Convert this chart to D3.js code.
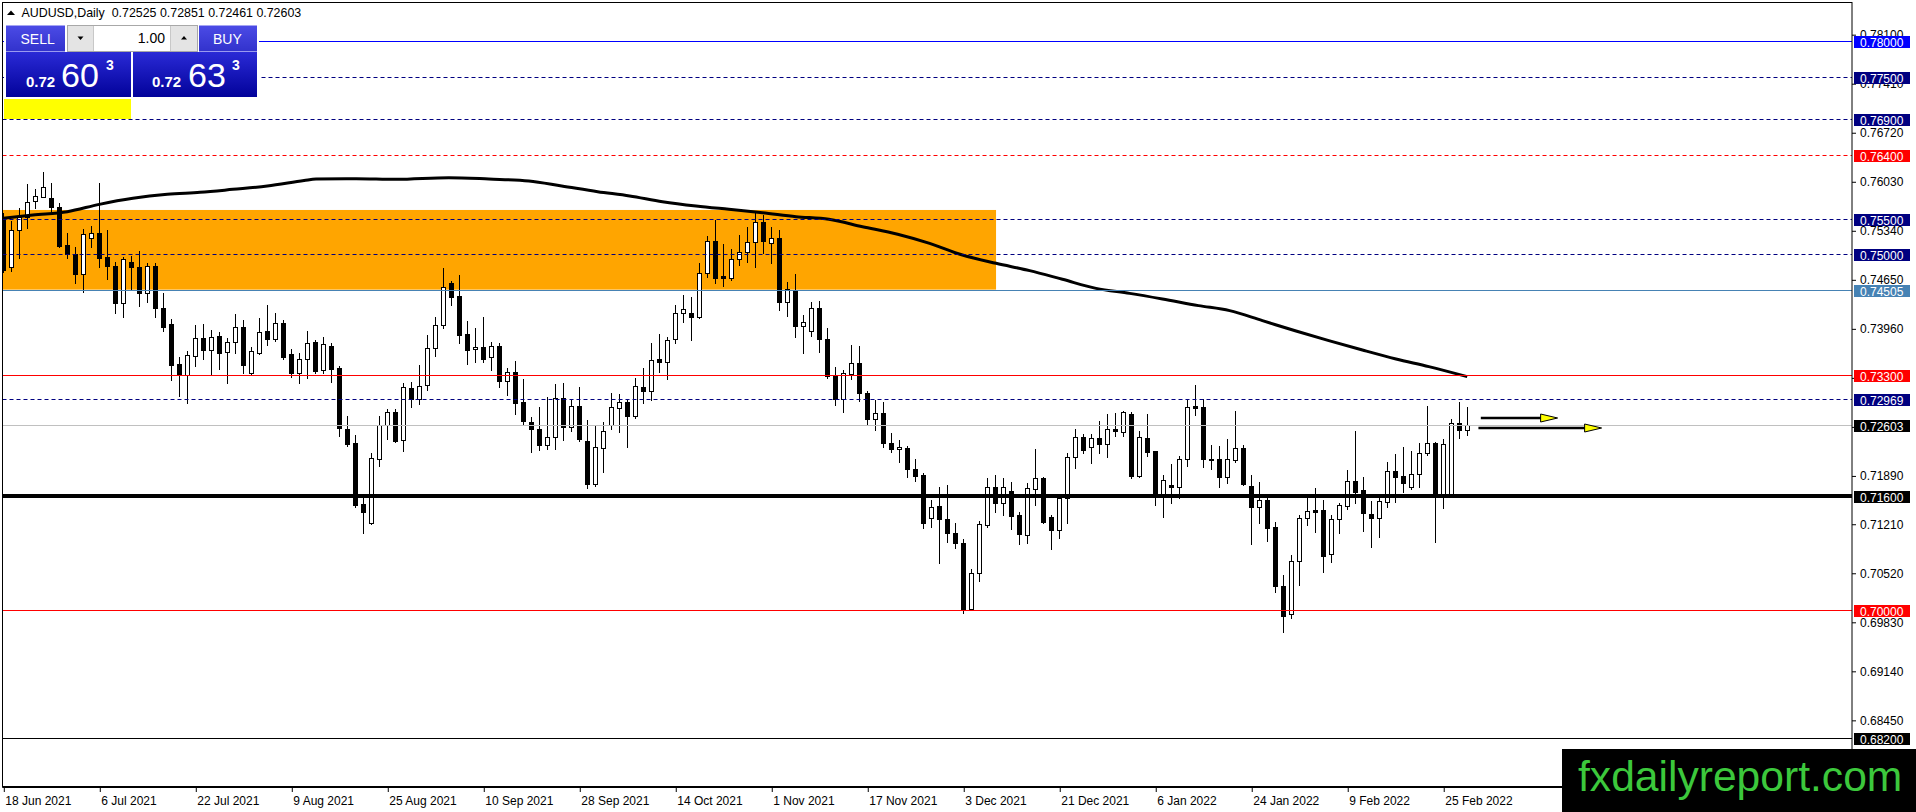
<!DOCTYPE html>
<html>
<head>
<meta charset="utf-8">
<script src="https://cdn.jsdelivr.net/npm/d3@7"></script>
<style>
html, body { margin: 0; padding: 0; background: #fff; overflow: hidden; }
svg { display: block; font-family: "Liberation Sans", Arial, sans-serif; }
</style>
</head>
<body>
<svg id="chart" width="1916" height="812"></svg>
<script>
// AUDUSD daily bars, 18 Jun 2021 .. 2 Mar 2022
const opens = [
  0.75522,0.74828,0.75344,0.75522,0.75747,0.75813,0.75790,0.75672,0.75128,0.75002,
  0.74720,0.75227,0.75297,0.74959,0.74837,0.74321,0.74893,0.74828,0.74462,0.74837,
  0.74241,0.74021,0.73458,0.73303,0.73575,0.73819,0.73655,0.73852,0.73631,0.73772,
  0.73974,0.73336,0.73617,0.73917,0.73805,0.74039,0.73599,0.73326,0.73524,0.73768,
  0.73374,0.73711,0.73397,0.72538,0.72341,0.71487,0.71215,0.72116,0.72595,0.72778,
  0.72388,0.73116,0.72970,0.73162,0.73679,0.74002,0.74593,0.74415,0.73880,0.73665,
  0.73693,0.73561,0.73711,0.73214,0.73341,0.72918,0.72642,0.72538,0.72322,0.72435,
  0.72974,0.72566,0.72871,0.72379,0.71769,0.72271,0.72600,0.72834,0.72919,0.72731,
  0.73130,0.73083,0.73529,0.73491,0.73805,0.74171,0.74171,0.74124,0.74734,0.75190,
  0.74697,0.74664,0.74932,0.75030,0.75171,0.75452,0.75157,0.75227,0.74326,0.74490,
  0.73998,0.73927,0.74242,0.73805,0.73289,0.72961,0.73318,0.73468,0.73045,0.72679,
  0.72773,0.72351,0.72257,0.72271,0.71975,0.71895,0.71285,0.71459,0.71271,0.71074,
  0.70943,0.70005,0.70521,0.71192,0.71722,0.71497,0.71675,0.71332,0.71051,0.71694,
  0.71849,0.71300,0.71121,0.71567,0.72144,0.72435,0.72285,0.72411,0.72332,0.72538,
  0.72505,0.72754,0.71881,0.72411,0.72238,0.71604,0.71755,0.71731,0.72116,0.72867,
  0.72848,0.72116,0.72116,0.71863,0.72107,0.72271,0.71741,0.71450,0.71544,0.71159,
  0.70334,0.69939,0.70690,0.71295,0.71403,0.71403,0.70779,0.71272,0.71464,0.71811,
  0.71685,0.71347,0.71286,0.71521,0.71957,0.71882,0.71722,0.71910,0.72201,0.72351,
  0.71628,0.71628,0.72623,0.72525
];
const highs = [
  0.75579,0.75471,0.75649,0.75991,0.75916,0.76165,0.76010,0.75729,0.75297,0.75100,
  0.75354,0.75400,0.76010,0.75344,0.74898,0.74968,0.74978,0.75053,0.74875,0.74875,
  0.74452,0.74086,0.73561,0.73641,0.74006,0.74016,0.73936,0.73903,0.73819,0.74161,
  0.74077,0.73702,0.74100,0.74288,0.74180,0.74077,0.73664,0.73608,0.73922,0.73796,
  0.73833,0.73758,0.73430,0.72726,0.72454,0.71567,0.72200,0.72726,0.72829,0.72829,
  0.73186,0.73200,0.73439,0.73866,0.74124,0.74805,0.74631,0.74711,0.74063,0.73960,
  0.74124,0.73772,0.73758,0.73397,0.73500,0.73242,0.72707,0.72857,0.72989,0.73172,
  0.73186,0.72960,0.73130,0.72670,0.72599,0.72647,0.73055,0.73036,0.72961,0.73257,
  0.73397,0.73759,0.73876,0.73843,0.74289,0.74430,0.74406,0.74885,0.75260,0.75485,
  0.75147,0.75072,0.75274,0.75391,0.75588,0.75555,0.75382,0.75344,0.74617,0.74725,
  0.74148,0.74326,0.74345,0.73960,0.73421,0.73374,0.73726,0.73712,0.73083,0.72952,
  0.72928,0.72492,0.72388,0.72304,0.72116,0.71928,0.71544,0.71722,0.71755,0.71215,
  0.70990,0.70568,0.71253,0.71849,0.71895,0.71849,0.71792,0.71379,0.71778,0.72257,
  0.71872,0.71332,0.71600,0.72210,0.72538,0.72473,0.72473,0.72655,0.72754,0.72773,
  0.72796,0.72787,0.72515,0.72754,0.72238,0.71895,0.72050,0.72163,0.72961,0.73162,
  0.72961,0.72318,0.72304,0.72403,0.72801,0.72318,0.71896,0.71802,0.71600,0.71239,
  0.70488,0.70770,0.71333,0.71567,0.71708,0.71544,0.71333,0.71497,0.71966,0.72515,
  0.71863,0.71535,0.71591,0.72074,0.72191,0.72295,0.72238,0.72351,0.72867,0.72360,
  0.72398,0.72679,0.72919,0.72851
];
const lows = [
  0.74758,0.74767,0.74945,0.75368,0.75658,0.75804,0.75588,0.75100,0.74945,0.74603,
  0.74467,0.75100,0.74828,0.74650,0.74180,0.74115,0.74509,0.74274,0.74335,0.74124,
  0.73927,0.73233,0.73007,0.72914,0.73434,0.73523,0.73317,0.73383,0.73195,0.73617,
  0.73326,0.73303,0.73599,0.73726,0.73782,0.73523,0.73280,0.73186,0.73256,0.73336,
  0.73327,0.73209,0.72444,0.72304,0.71440,0.71084,0.71205,0.72022,0.72397,0.72365,
  0.72238,0.72857,0.72895,0.73092,0.73571,0.73969,0.74284,0.73758,0.73458,0.73491,
  0.73491,0.73374,0.73139,0.73022,0.72754,0.72613,0.72224,0.72247,0.72257,0.72257,
  0.72388,0.72519,0.72379,0.71717,0.71745,0.71943,0.72539,0.72506,0.72285,0.72693,
  0.72905,0.72952,0.73341,0.73247,0.73749,0.74054,0.73796,0.74101,0.74678,0.74603,
  0.74556,0.74641,0.74852,0.74899,0.74819,0.75025,0.74885,0.74218,0.74139,0.73843,
  0.73618,0.73857,0.73632,0.73257,0.72881,0.72787,0.73242,0.72942,0.72600,0.72529,
  0.72295,0.72224,0.72083,0.71863,0.71816,0.71145,0.71159,0.70652,0.70957,0.70863,
  0.69948,0.69995,0.70408,0.71159,0.71379,0.71332,0.71131,0.70924,0.70943,0.71473,
  0.71224,0.70849,0.71004,0.71224,0.71989,0.72200,0.72069,0.72210,0.72153,0.72444,
  0.72444,0.71849,0.71863,0.72163,0.71473,0.71309,0.71506,0.71567,0.72022,0.72740,
  0.72004,0.71976,0.71722,0.71788,0.72084,0.71755,0.70925,0.71225,0.70972,0.70254,
  0.69691,0.69878,0.70348,0.71192,0.71098,0.70535,0.70676,0.71084,0.71417,0.71497,
  0.71112,0.70878,0.71028,0.71450,0.71521,0.71661,0.71694,0.71732,0.72177,0.70958,
  0.71427,0.71620,0.72412,0.72461
];
const closes = [
  0.74781,0.75344,0.75522,0.75743,0.75822,0.75944,0.75672,0.75119,0.75006,0.74720,
  0.75283,0.75297,0.74954,0.74842,0.74321,0.74935,0.74818,0.74462,0.74837,0.74241,
  0.73983,0.73448,0.73303,0.73580,0.73819,0.73655,0.73833,0.73617,0.73772,0.73974,
  0.73448,0.73636,0.73913,0.73805,0.74039,0.73551,0.73326,0.73523,0.73749,0.73364,
  0.73740,0.73392,0.72552,0.72332,0.71473,0.71379,0.72130,0.72595,0.72778,0.72379,
  0.73139,0.72970,0.73153,0.73679,0.74002,0.74537,0.74406,0.73871,0.73655,0.73693,
  0.73533,0.73711,0.73223,0.73341,0.72914,0.72660,0.72538,0.72322,0.72426,0.72974,
  0.72576,0.72871,0.72397,0.71769,0.72285,0.72520,0.72848,0.72919,0.72731,0.73149,
  0.73083,0.73515,0.73491,0.73796,0.74171,0.74228,0.74124,0.74734,0.75190,0.74673,
  0.74673,0.74932,0.75030,0.75171,0.75452,0.75194,0.75227,0.74326,0.74509,0.73998,
  0.74045,0.74242,0.73805,0.73289,0.72961,0.73327,0.73468,0.73045,0.72679,0.72773,
  0.72351,0.72257,0.72285,0.71975,0.71881,0.71224,0.71440,0.71271,0.71074,0.70943,
  0.69995,0.70521,0.71201,0.71722,0.71497,0.71722,0.71323,0.71060,0.71708,0.71849,
  0.71238,0.71121,0.71567,0.72144,0.72435,0.72247,0.72411,0.72332,0.72538,0.72519,
  0.72778,0.71881,0.72426,0.72224,0.71604,0.71825,0.71731,0.72116,0.72848,0.72834,
  0.72116,0.72112,0.71863,0.72116,0.72271,0.71769,0.71450,0.71544,0.71155,0.70338,
  0.69916,0.70690,0.71295,0.71389,0.71380,0.70760,0.71272,0.71474,0.71811,0.71661,
  0.71366,0.71286,0.71535,0.71957,0.71872,0.71779,0.71910,0.72201,0.72351,0.71628,
  0.72328,0.72623,0.72529,0.72603
];

// moving average, sampled along the line (bar index, value)
const smaBars = [0, 3.7, 8, 12, 16.2, 20.5, 24.6, 28.7, 33, 37.6, 39.1, 44.1, 49.1, 55.7, 60.7,
  65.7, 69.8, 74.3, 78.3, 82.4, 86.6, 90.7, 94.9, 99.1, 103.2, 107.4, 111.8, 115.8, 119.9,
  124.1, 128.3, 132.4, 136.6, 140.8, 144.9, 149.4, 153.3, 157.4, 161.6, 165.7, 169.9, 174.1,
  178.2, 183];
const smaValues = [0.75508, 0.75555, 0.75602, 0.75705, 0.75790, 0.75846, 0.75874, 0.75916,
  0.75963, 0.76040, 0.76062, 0.76067, 0.76057, 0.76081, 0.76062, 0.76034, 0.75964, 0.75884,
  0.75823, 0.75743, 0.75682, 0.75635, 0.75588, 0.75532, 0.75495, 0.75391, 0.75285, 0.75156,
  0.74992, 0.74875, 0.74772, 0.74650, 0.74523, 0.74452, 0.74373, 0.74280, 0.74209, 0.74068,
  0.73923, 0.73787, 0.73655, 0.73529, 0.73421, 0.73280];

// horizontal levels
const levelPrices = [0.78, 0.775, 0.769, 0.764, 0.755, 0.75, 0.74505, 0.733, 0.72969, 0.72603, 0.716, 0.70, 0.682];
const levelKinds  = ["blue", "navyDash", "navyDash", "redDash", "navyDash", "navyDash", "steel", "red", "navyDash", "bid", "support", "red", "black"];

// supply zone
const zoneTop = 0.75626, zoneBottom = 0.74505, zoneFrom = -2, zoneTo = 124.1;

// projection arrows (start bar, tip bar, price)
const arrowFrom  = [184.7, 184.4];
const arrowTo    = [194.3, 199.8];
const arrowPrice = [0.72702, 0.72562];

// axes
const priceTicks = [0.781, 0.7741, 0.7672, 0.7603, 0.7534, 0.7465, 0.7396, 0.7327, 0.7258,
  0.7189, 0.7121, 0.7052, 0.6983, 0.6914, 0.6845];
const tickBars = [0, 12, 24, 36, 48, 60, 72, 84, 96, 108, 120, 132, 144, 156, 168, 180];
const tickLabels = ["18 Jun 2021", "6 Jul 2021", "22 Jul 2021", "9 Aug 2021", "25 Aug 2021",
  "10 Sep 2021", "28 Sep 2021", "14 Oct 2021", "1 Nov 2021", "17 Nov 2021", "3 Dec 2021",
  "21 Dec 2021", "6 Jan 2022", "24 Jan 2022", "9 Feb 2022", "25 Feb 2022"];

const header = "AUDUSD,Daily  0.72525 0.72851 0.72461 0.72603";

// ---------------------------------------------------------------
const kindStyle = {
  blue:     { stroke: "#0000ff", box: "#0000ff", width: 1, dash: null },
  navyDash: { stroke: "#000080", box: "#000080", width: 1, dash: "4,3" },
  redDash:  { stroke: "#ff0000", box: "#ff0000", width: 1, dash: "4,3" },
  steel:    { stroke: "#4682b4", box: "#4682b4", width: 1, dash: null },
  red:      { stroke: "#ff0000", box: "#ff0000", width: 1, dash: null },
  bid:      { stroke: "#c0c0c0", box: "#000000", width: 1, dash: null },
  support:  { stroke: "#000000", box: "#000000", width: 4, dash: null },
  black:    { stroke: "#000000", box: "#000000", width: 1, dash: null }
};

const plotL = 2.5, plotR = 1852, plotT = 2.5, plotB = 787;

const x = d3.scaleLinear().domain([0, 231.1]).range([3.3, 1852]);
const y = d3.scaleLinear().domain([0.78553, 0.67505]).range([2, 787]);
const px = v => Math.round(v) + 0.5;

const svg = d3.select("#chart");
const defs = svg.append("defs");

defs.append("clipPath").attr("id", "plot")
  .append("rect").attr("x", plotL).attr("y", plotT)
  .attr("width", plotR - plotL).attr("height", plotB - plotT);

const gradBtn = defs.append("linearGradient").attr("id", "btn").attr("x1", 0).attr("y1", 0).attr("x2", 0).attr("y2", 1);
gradBtn.append("stop").attr("offset", "0%").attr("stop-color", "#4b4be6");
gradBtn.append("stop").attr("offset", "100%").attr("stop-color", "#3232cc");
const gradPx = defs.append("linearGradient").attr("id", "pxbox").attr("x1", 0).attr("y1", 0).attr("x2", 0).attr("y2", 1);
gradPx.append("stop").attr("offset", "0%").attr("stop-color", "#2a2ad6");
gradPx.append("stop").attr("offset", "100%").attr("stop-color", "#02029a");

const plot = svg.append("g").attr("clip-path", "url(#plot)");

// orange zone
plot.append("rect")
  .attr("x", x(zoneFrom)).attr("y", y(zoneTop))
  .attr("width", x(zoneTo) - x(zoneFrom)).attr("height", y(zoneBottom) - y(zoneTop))
  .attr("fill", "#ffa500");

// candles
const bars = d3.range(opens.length);
const candle = plot.append("g").attr("shape-rendering", "crispEdges");
candle.selectAll("line.wick").data(bars).enter().append("line")
  .attr("class", "wick")
  .attr("x1", i => px(x(i))).attr("x2", i => px(x(i)))
  .attr("y1", i => Math.round(y(highs[i]))).attr("y2", i => Math.round(y(lows[i])) + 1)
  .attr("stroke", "#000").attr("stroke-width", 1);
candle.selectAll("rect.body").data(bars).enter().append("rect")
  .attr("class", "body")
  .attr("x", i => px(x(i)) - 2)
  .attr("y", i => px(y(Math.max(opens[i], closes[i]))))
  .attr("width", 4)
  .attr("height", i => Math.max(0, px(y(Math.min(opens[i], closes[i]))) - px(y(Math.max(opens[i], closes[i])))))
  .attr("fill", i => closes[i] >= opens[i] ? "#fff" : "#000")
  .attr("stroke", "#000").attr("stroke-width", 1);

// moving average
plot.append("path")
  .datum(d3.zip(smaBars, smaValues))
  .attr("d", d3.line().x(d => x(d[0])).y(d => y(d[1])).curve(d3.curveMonotoneX))
  .attr("fill", "none").attr("stroke", "#000").attr("stroke-width", 3);

// horizontal levels
const lv = plot.append("g");
levelPrices.forEach((p, k) => {
  const s = kindStyle[levelKinds[k]];
  const ly = s.width % 2 ? px(y(p)) : Math.round(y(p));
  lv.append("line")
    .attr("x1", plotL).attr("x2", plotR).attr("y1", ly).attr("y2", ly)
    .attr("stroke", s.stroke).attr("stroke-width", s.width)
    .attr("stroke-dasharray", s.dash);
});

// arrows: shaft, then yellow head ending at the tip bar
const ar = plot.append("g");
arrowPrice.forEach((p, k) => {
  const ay = Math.round(y(p));
  const x0 = x(arrowFrom[k]), tip = x(arrowTo[k]), base = tip - 17;
  ar.append("line").attr("x1", x0).attr("x2", base + 2).attr("y1", ay).attr("y2", ay)
    .attr("stroke", "#000").attr("stroke-width", 2.5);
  ar.append("path")
    .attr("d", `M${base},${ay - 4}L${tip},${ay}L${base},${ay + 4}Z`)
    .attr("fill", "#ffff00").attr("stroke", "#000").attr("stroke-width", 1);
});

// frame
svg.append("rect").attr("x", plotL).attr("y", plotT)
  .attr("width", plotR - plotL).attr("height", plotB - plotT)
  .attr("fill", "none").attr("stroke", "#000").attr("stroke-width", 1);
svg.append("line").attr("x1", plotL).attr("x2", plotR + 0.5).attr("y1", plotB).attr("y2", plotB)
  .attr("stroke", "#000").attr("stroke-width", 2);

// price axis
const yAxis = svg.append("g")
  .attr("transform", `translate(${plotR},0.5)`)
  .call(d3.axisRight(y).tickValues(priceTicks).tickSize(4).tickPadding(4).tickFormat(d3.format(".5f")));
yAxis.select(".domain").remove();
yAxis.selectAll("text").attr("font-size", 12).attr("font-family", "Liberation Sans, Arial, sans-serif").attr("fill", "#000");

// level boxes on the price axis (they sit on top of the tick labels, as in the terminal)
const boxes = svg.append("g");
levelPrices.forEach((p, k) => {
  const s = kindStyle[levelKinds[k]];
  const ly = y(p);
  boxes.append("rect").attr("x", 1854).attr("y", Math.round(ly) - 5)
    .attr("width", 56).attr("height", 12).attr("fill", s.box);
  boxes.append("text").attr("x", 1860).attr("y", Math.round(ly) + 6)
    .attr("font-size", 12).attr("fill", "#fff").text(d3.format(".5f")(p));
});

// time axis
const xAxis = svg.append("g")
  .attr("transform", `translate(0.5,${plotB})`)
  .call(d3.axisBottom(x).tickValues(tickBars).tickSize(5).tickPadding(4).tickFormat((d, i) => tickLabels[i]));
xAxis.select(".domain").remove();
xAxis.selectAll("text").attr("text-anchor", "start").attr("dx", 1)
  .attr("font-size", 12).attr("font-family", "Liberation Sans, Arial, sans-serif").attr("fill", "#000");

// header
svg.append("path").attr("d", "M7,15L11,10.5L15,15Z").attr("fill", "#000");
svg.append("text").attr("x", 21.5).attr("y", 17).attr("font-size", 12.4).attr("fill", "#000")
  .attr("xml:space", "preserve").text(header);

// one-click trading panel
const panel = svg.append("g");
panel.append("rect").attr("x", 4).attr("y", 23).attr("width", 255).attr("height", 75).attr("fill", "#fff");
panel.append("rect").attr("x", 6).attr("y", 25.5).attr("width", 59).attr("height", 26).attr("fill", "url(#btn)");
panel.append("rect").attr("x", 199).attr("y", 25.5).attr("width", 58).attr("height", 26).attr("fill", "url(#btn)");
panel.append("line").attr("x1", 10).attr("x2", 62).attr("y1", 51.5).attr("y2", 51.5).attr("stroke", "#9a9af0");
panel.append("line").attr("x1", 201).attr("x2", 255).attr("y1", 51.5).attr("y2", 51.5).attr("stroke", "#9a9af0");
panel.append("text").attr("x", 20.5).attr("y", 44).attr("font-size", 14).attr("fill", "#fff").text("SELL");
panel.append("text").attr("x", 213).attr("y", 44).attr("font-size", 14).attr("fill", "#fff").text("BUY");
panel.append("rect").attr("x", 67.5).attr("y", 25.5).attr("width", 130).attr("height", 26)
  .attr("fill", "#e4e4e4").attr("stroke", "#a8a8a8");
panel.append("rect").attr("x", 93.5).attr("y", 26).attr("width", 77).attr("height", 25).attr("fill", "#fff");
panel.append("line").attr("x1", 93.5).attr("x2", 93.5).attr("y1", 26).attr("y2", 51).attr("stroke", "#c8c8c8");
panel.append("line").attr("x1", 170.5).attr("x2", 170.5).attr("y1", 26).attr("y2", 51).attr("stroke", "#c8c8c8");
panel.append("path").attr("d", "M77.5,36.5L83.5,36.5L80.5,40Z").attr("fill", "#000");
panel.append("path").attr("d", "M181,39.5L187,39.5L184,36Z").attr("fill", "#000");
panel.append("text").attr("x", 165).attr("y", 43).attr("font-size", 14).attr("text-anchor", "end")
  .attr("fill", "#000").text("1.00");
panel.append("rect").attr("x", 6).attr("y", 52).attr("width", 125).attr("height", 45).attr("fill", "url(#pxbox)");
panel.append("rect").attr("x", 133).attr("y", 52).attr("width", 124).attr("height", 45).attr("fill", "url(#pxbox)");
[[26, 61, 106, "60"], [152, 188, 232, "63"]].forEach(([a, b, c, big]) => {
  panel.append("text").attr("x", a).attr("y", 87).attr("font-size", 15).attr("font-weight", "bold")
    .attr("fill", "#fff").text("0.72");
  panel.append("text").attr("x", b).attr("y", 87).attr("font-size", 34).attr("fill", "#fff").text(big);
  panel.append("text").attr("x", c).attr("y", 70).attr("font-size", 14).attr("font-weight", "bold")
    .attr("fill", "#fff").text("3");
});
panel.append("rect").attr("x", 4).attr("y", 99).attr("width", 127).attr("height", 20).attr("fill", "#ffff00");

// watermark
svg.append("rect").attr("x", 1562).attr("y", 749).attr("width", 354).attr("height", 63).attr("fill", "#000");
svg.append("text").attr("x", 1578).attr("y", 791).attr("font-size", 42.6).attr("fill", "#3cc83c")
  .text("fxdailyreport.com");
</script>
</body>
</html>
